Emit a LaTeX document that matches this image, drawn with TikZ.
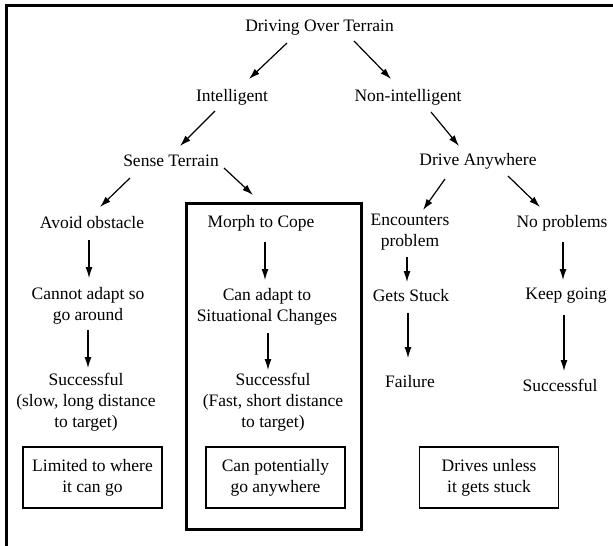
\documentclass[tikz,border=0pt]{standalone}
\usepackage{fontspec}
\setmainfont{Liberation Serif}
\usetikzlibrary{arrows.meta,calc}

\begin{document}
\begin{tikzpicture}[x=1pt,y=-1pt,
	every node/.style={align=center,inner sep=1pt,font=\fontsize{17.5}{21}\selectfont},
	arr/.style={-{Latex[length=11pt,width=7pt]},line width=1.2pt},
	outcome/.style={draw,line width=1.2pt,minimum width=139pt,minimum height=61pt},
	groupbox/.style={draw,line width=3pt,minimum width=175pt,minimum height=326pt}]
	\useasboundingbox (0,0) rectangle (613,546);
	\draw[line width=2.5pt] (6.5,546) -- (6.5,5.5) -- (613,5.5);
	\node (top) at (319.5,28) {Driving Over Terrain};
	\node (int) [below of = top, node distance = 69pt, xshift = -87.5pt] {Intelligent};
	\node (nonint) [below of = top, node distance = 69pt, xshift = 88.5pt] {Non-intelligent};
	\node (sense) [below of = int, node distance = 64pt, xshift = -61pt] {Sense Terrain};
	\node (anyw) [below of = nonint, node distance = 64pt, xshift = 70pt] {Drive Anywhere};
	\node (avoid) [below of = sense, node distance = 62pt, xshift = -79pt] {Avoid obstacle};
	\node (morph) [below of = sense, node distance = 62pt, xshift = 90pt] {Morph to Cope};
	\node (enc) [below of = anyw, node distance = 71.5pt, xshift = -68pt] {Encounters\\problem};
	\node (noprob) [below of = anyw, node distance = 62pt, xshift = 84pt] {No problems};
	\node (cannot) [below of = avoid, node distance = 82.5pt, xshift = -4pt] {Cannot adapt so\\go around};
	\node (canadapt) [below of = morph, node distance = 83.5pt, xshift = 6pt] {Can adapt to\\Situational Changes};
	\node (stuck) [below of = enc, node distance = 63.5pt, xshift = 1pt] {Gets Stuck};
	\node (keep) [below of = noprob, node distance = 73pt, xshift = 4pt] {Keep going};
	\node (succL) [below of = cannot, node distance = 97pt, xshift = -2pt] {Successful\\(slow, long distance\\to target)};
	\node (succM) [below of = canadapt, node distance = 96pt, xshift = 6pt] {Successful\\(Fast, short distance\\to target)};
	\node (fail) [below of = stuck, node distance = 86pt, xshift = -1pt] {Failure};
	\node (succR) [below of = keep, node distance = 89pt, xshift = -6pt] {Successful};
	\node[outcome] (limit) [below of = succL, node distance = 75pt, xshift = 6.5pt] {Limited to where\\it can go};
	\node[outcome] (canpot) [below of = succM, node distance = 75pt, xshift = 2.5pt] {Can potentially\\go anywhere};
	\node[outcome] (drives) [below of = fail, node distance = 95.5pt, xshift = 79pt] {Drives unless\\it gets stuck};
	\node[groupbox] (morphgroup) at (273.5,366) {};
	% arrows
	\draw[arr] ($(top)+(-32.5,15)$) -- ($(int)+(17,-18)$);
	\draw[arr] ($(top)+(34.5,13)$) -- ($(nonint)+(-17,-18)$);
	\draw[arr] ($(int)+(-17,14)$) -- ($(sense)+(9,-15)$);
	\draw[arr] ($(nonint)+(23,15)$) -- ($(anyw)+(-19,-15)$);
	\draw[arr] ($(sense)+(-41,17)$) -- ($(avoid)+(8,-16)$);
	\draw[arr] ($(sense)+(53,7)$) -- ($(morph)+(-8,-28)$);
	\draw[arr] ($(anyw)+(-33,18)$) -- ($(enc)+(13,-22.5)$);
	\draw[arr] ($(anyw)+(30,15)$) -- ($(noprob)+(-22,-16)$);
	\draw[arr] ($(avoid)+(-3,17)$) -- ($(cannot)+(1,-27.5)$);
	\draw[arr] ($(morph)+(4,19)$) -- ($(canadapt)+(-2,-26.5)$);
	\draw[arr] ($(enc)+(-3,24.5)$) -- ($(stuck)+(-4,-14)$);
	\draw[arr] ($(noprob)+(1,19)$) -- ($(keep)+(-3,-16)$);
	\draw[arr] ($(cannot)+(0,24.5)$) -- ($(succL)+(2,-34.5)$);
	\draw[arr] ($(canadapt)+(1,26.5)$) -- ($(succM)+(-5,-32.5)$);
	\draw[arr] ($(stuck)+(-3,17)$) -- ($(fail)+(-2,-24)$);
	\draw[arr] ($(keep)+(-2,19)$) -- ($(succR)+(4,-14)$);
\end{tikzpicture}
\end{document}
